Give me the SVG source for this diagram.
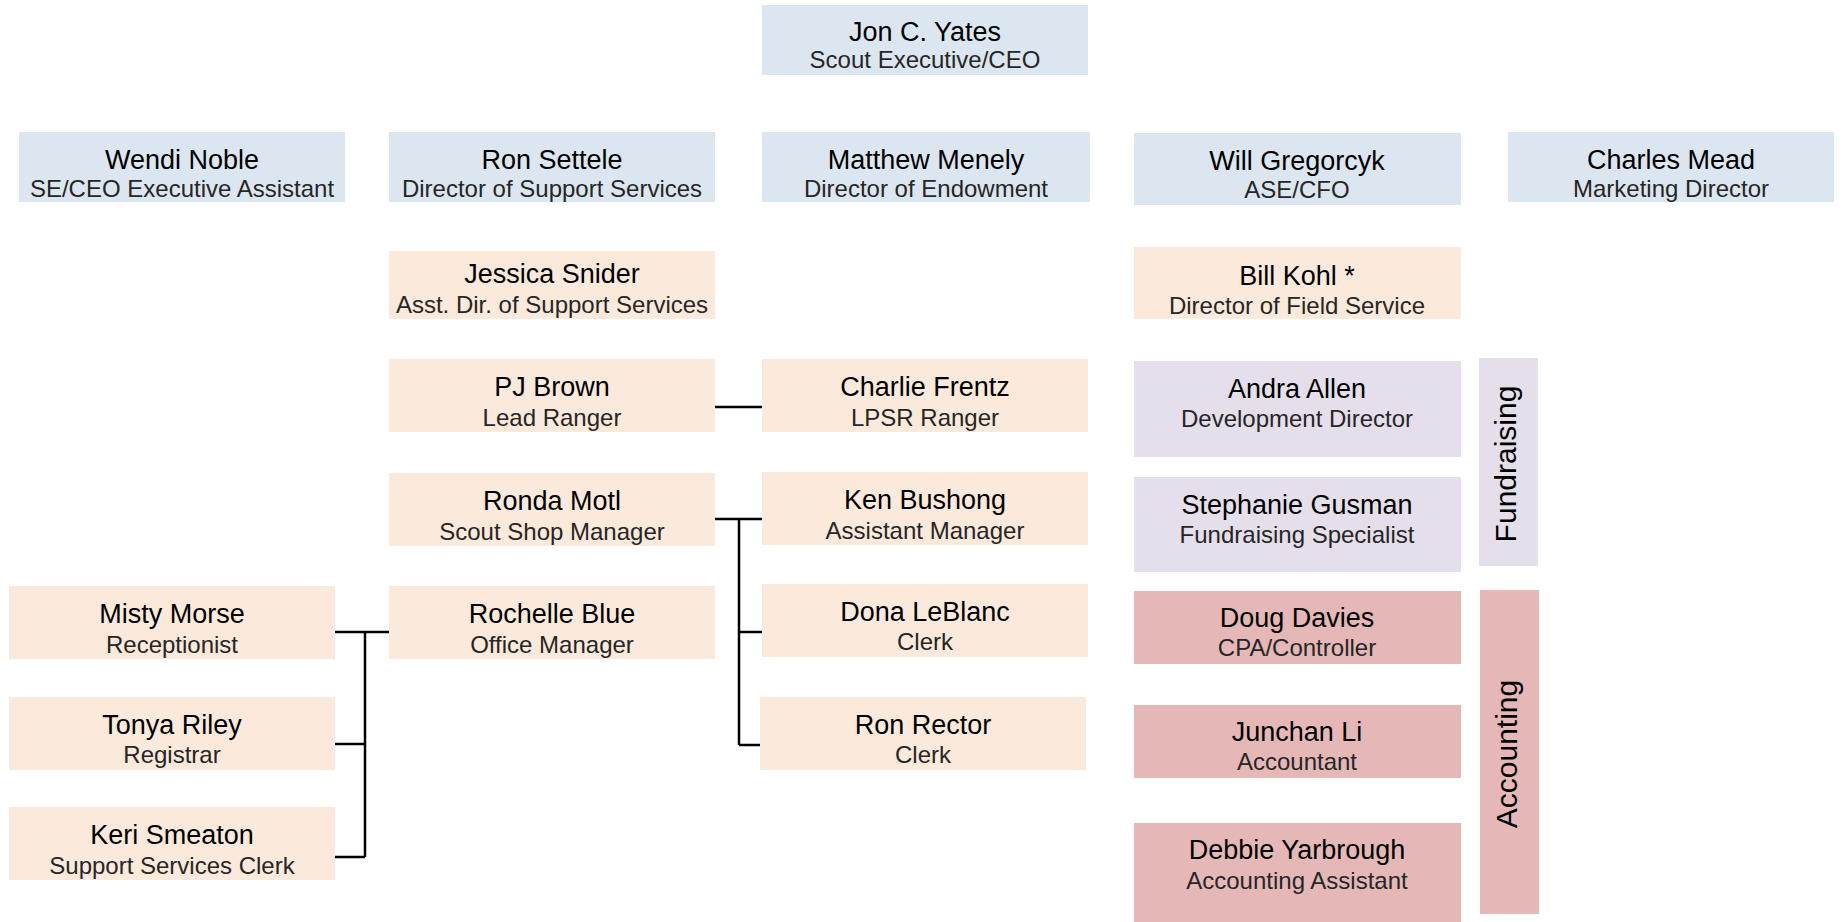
<svg xmlns="http://www.w3.org/2000/svg" width="1845" height="922" viewBox="0 0 1845 922">
<style>
.blue{fill:#dce6f0}
.peach{fill:#fbeadb}
.lav{fill:#e5dfeb}
.pink{fill:#e5b8b7}
.t{font-family:"Liberation Sans","Noto Sans",sans-serif;font-size:27px;fill:#000;text-anchor:middle}
.s{font-family:"Liberation Sans","Noto Sans",sans-serif;font-size:24px;fill:#262626;text-anchor:middle}
.v{font-family:"Liberation Sans","Noto Sans",sans-serif;font-size:30px;fill:#000;text-anchor:middle}
.c{stroke:#000;stroke-width:2.5;fill:none}
</style>
<rect width="1845" height="922" fill="#fff"/>
<g id="connectors">
<path class="c" d="M715 407H762"/>
<path class="c" d="M715 519H762M739 519V745M739 632H762M739 745H760"/>
<path class="c" d="M335 632H389M365 632V857M335 744H365M335 857H365"/>
</g>
<g id="jon"><rect class="blue" x="762" y="5" width="326" height="70"/><text class="t" x="925" y="41">Jon C. Yates</text><text class="s" x="925" y="68">Scout Executive/CEO</text></g>
<g id="wendi"><rect class="blue" x="19" y="132" width="326" height="70"/><text class="t" x="182" y="169">Wendi Noble</text><text class="s" x="182" y="197">SE/CEO Executive Assistant</text></g>
<g id="ronsettele"><rect class="blue" x="389" y="132" width="326" height="70"/><text class="t" x="552" y="169">Ron Settele</text><text class="s" x="552" y="197">Director of Support Services</text></g>
<g id="matthew"><rect class="blue" x="762" y="132" width="328" height="70"/><text class="t" x="926" y="169">Matthew Menely</text><text class="s" x="926" y="197">Director of Endowment</text></g>
<g id="will"><rect class="blue" x="1134" y="133" width="327" height="72"/><text class="t" x="1297" y="170">Will Gregorcyk</text><text class="s" x="1297" y="198">ASE/CFO</text></g>
<g id="charles"><rect class="blue" x="1508" y="132" width="326" height="70"/><text class="t" x="1671" y="169">Charles Mead</text><text class="s" x="1671" y="197">Marketing Director</text></g>
<g id="jessica"><rect class="peach" x="389" y="251" width="326" height="68"/><text class="t" x="552" y="283">Jessica Snider</text><text class="s" x="552" y="313">Asst. Dir. of Support Services</text></g>
<g id="bill"><rect class="peach" x="1134" y="247" width="327" height="72"/><text class="t" x="1297" y="285">Bill Kohl *</text><text class="s" x="1297" y="314">Director of Field Service</text></g>
<g id="pj"><rect class="peach" x="389" y="359" width="326" height="73"/><text class="t" x="552" y="396">PJ Brown</text><text class="s" x="552" y="426">Lead Ranger</text></g>
<g id="charlie"><rect class="peach" x="762" y="359" width="326" height="73"/><text class="t" x="925" y="396">Charlie Frentz</text><text class="s" x="925" y="426">LPSR Ranger</text></g>
<g id="ronda"><rect class="peach" x="389" y="473" width="326" height="73"/><text class="t" x="552" y="510">Ronda Motl</text><text class="s" x="552" y="540">Scout Shop Manager</text></g>
<g id="ken"><rect class="peach" x="762" y="472" width="326" height="73"/><text class="t" x="925" y="509">Ken Bushong</text><text class="s" x="925" y="539">Assistant Manager</text></g>
<g id="rochelle"><rect class="peach" x="389" y="586" width="326" height="73"/><text class="t" x="552" y="623">Rochelle Blue</text><text class="s" x="552" y="653">Office Manager</text></g>
<g id="misty"><rect class="peach" x="9" y="586" width="326" height="73"/><text class="t" x="172" y="623">Misty Morse</text><text class="s" x="172" y="653">Receptionist</text></g>
<g id="tonya"><rect class="peach" x="9" y="697" width="326" height="73"/><text class="t" x="172" y="734">Tonya Riley</text><text class="s" x="172" y="763">Registrar</text></g>
<g id="keri"><rect class="peach" x="9" y="807" width="326" height="73"/><text class="t" x="172" y="844">Keri Smeaton</text><text class="s" x="172" y="874">Support Services Clerk</text></g>
<g id="dona"><rect class="peach" x="762" y="584" width="326" height="73"/><text class="t" x="925" y="621">Dona LeBlanc</text><text class="s" x="925" y="650">Clerk</text></g>
<g id="ronrector"><rect class="peach" x="760" y="697" width="326" height="73"/><text class="t" x="923" y="734">Ron Rector</text><text class="s" x="923" y="763">Clerk</text></g>
<g id="andra"><rect class="lav" x="1134" y="361" width="327" height="96"/><text class="t" x="1297" y="398">Andra Allen</text><text class="s" x="1297" y="427">Development Director</text></g>
<g id="stephanie"><rect class="lav" x="1134" y="477" width="327" height="95"/><text class="t" x="1297" y="514">Stephanie Gusman</text><text class="s" x="1297" y="543">Fundraising Specialist</text></g>
<g id="doug"><rect class="pink" x="1134" y="591" width="327" height="73"/><text class="t" x="1297" y="627">Doug Davies</text><text class="s" x="1297" y="656">CPA/Controller</text></g>
<g id="junchan"><rect class="pink" x="1134" y="705" width="327" height="73"/><text class="t" x="1297" y="741">Junchan Li</text><text class="s" x="1297" y="770">Accountant</text></g>
<g id="debbie"><rect class="pink" x="1134" y="823" width="327" height="99"/><text class="t" x="1297" y="859">Debbie Yarbrough</text><text class="s" x="1297" y="889">Accounting Assistant</text></g>
<g id="fundraising"><rect class="lav" x="1479" y="358" width="59" height="208"/><text class="v" transform="translate(1516 464) rotate(-90)">Fundraising</text></g>
<g id="accounting"><rect class="pink" x="1480" y="590" width="59" height="324"/><text class="v" transform="translate(1517 754) rotate(-90)">Accounting</text></g>
</svg>
